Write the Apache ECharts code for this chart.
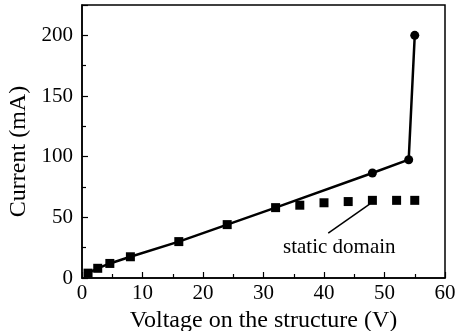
<!DOCTYPE html>
<html>
<head>
<meta charset="utf-8">
<script src="https://cdn.jsdelivr.net/npm/echarts@6/dist/echarts.min.js"></script>
<style>
  html, body { margin: 0; padding: 0; background: #fff; }
  #chart { width: 457px; height: 331px; }
</style>
</head>
<body>
<div id="chart"></div>
<script>
// measured points on the I-V curve (squares, then circles near breakdown)
const ohmicVoltage = [1, 2.6, 4.6, 8, 16, 24, 32]
const ohmicCurrent = [4, 8, 12, 17.5, 30, 44, 58]
const breakdownVoltage = [48, 54, 55]
const breakdownCurrent = [86.5, 97.5, 200]

// static domain branch (squares only)
const staticVoltage = [36, 40, 44, 48, 52, 55]
const staticCurrent = [60, 62, 63, 64, 64, 64]

// annotation pointer from label to the static branch
const pointerVoltage = [40.7, 47.6]
const pointerCurrent = [37, 61]

const font = 'Liberation Serif, Times New Roman, serif'

const mainData = ohmicVoltage.map((v, i) => ({ value: [v, ohmicCurrent[i]], symbol: 'rect' }))
  .concat(breakdownVoltage.map((v, i) => ({ value: [v, breakdownCurrent[i]], symbol: 'circle' })))

const staticData = staticVoltage.map((v, i) => [v, staticCurrent[i]])

const chart = echarts.init(document.getElementById('chart'), null, { renderer: 'canvas' })

const axisCommon = {
  axisLine: { show: true, onZero: false, lineStyle: { color: '#000', width: 1.5 } },
  axisTick: { show: true, inside: true, length: 6, lineStyle: { color: '#000', width: 1.2 } },
  minorTick: { show: true, splitNumber: 2, length: 4, lineStyle: { color: '#000', width: 1.2 } },
  splitLine: { show: false },
  axisLabel: { color: '#000', fontFamily: font, fontSize: 21, showMaxLabel: false },
  nameTextStyle: { color: '#000', fontFamily: font, fontSize: 24 }
}

chart.setOption({
  animation: false,
  grid: {
    left: 82, right: 12, top: 5, bottom: 53,
    outerBoundsMode: 'none',
    containLabel: false,
    show: true, borderColor: '#000', borderWidth: 1.5
  },
  xAxis: {
    ...axisCommon,
    type: 'value',
    min: 0, max: 60, interval: 10,
    name: 'Voltage on the structure (V)',
    nameLocation: 'middle',
    nameGap: 30,
    axisLabel: { ...axisCommon.axisLabel, showMaxLabel: true, margin: 5 }
  },
  yAxis: {
    ...axisCommon,
    type: 'value',
    min: 0, max: 225, interval: 50,
    name: 'Current (mA)',
    nameLocation: 'middle',
    nameGap: 46,
    nameTextStyle: { ...axisCommon.nameTextStyle, padding: [0, 20, 0, 0] },
    axisLabel: { ...axisCommon.axisLabel, margin: 9 }
  },
  series: [
    {
      type: 'line',
      data: mainData,
      symbolSize: 9,
      lineStyle: { color: '#000', width: 2.5 },
      itemStyle: { color: '#000' }
    },
    {
      type: 'scatter',
      data: staticData,
      symbol: 'rect',
      symbolSize: 9,
      itemStyle: { color: '#000', opacity: 1 },
      markLine: {
        silent: true,
        symbol: 'none',
        label: { show: false },
        lineStyle: { color: '#000', width: 1.5, type: 'solid', opacity: 1 },
        data: [[
          { coord: [pointerVoltage[0], pointerCurrent[0]] },
          { coord: [pointerVoltage[1], pointerCurrent[1]] }
        ]]
      }
    }
  ],
  graphic: [{
    type: 'text',
    left: 283, top: 237,
    style: { text: 'static domain', fill: '#000', font: '21px ' + font }
  }]
})
</script>
</body>
</html>
